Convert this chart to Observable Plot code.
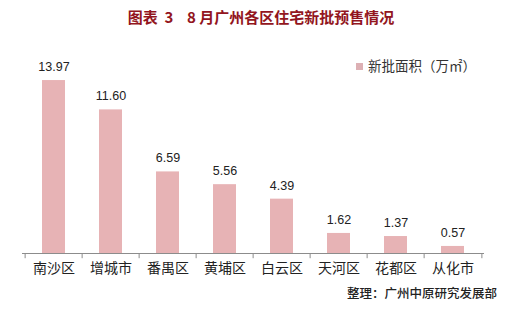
<!DOCTYPE html>
<html>
<head>
<meta charset="utf-8">
<script src="https://cdn.jsdelivr.net/npm/d3@7"></script>
<script src="https://cdn.jsdelivr.net/npm/@observablehq/plot@0.6"></script>
<style>
  html, body { margin: 0; padding: 0; background: #fff; }
  #wrap { position: relative; width: 511px; height: 309px; overflow: hidden; }
  #wrap svg { position: absolute; left: 0; top: 0; }
  .title { position: absolute; left: 0; width: 522px; top: 6px; text-align: center;
    font: bold 15px "Noto Sans CJK SC", sans-serif; color: #921520; line-height: 22px; white-space: pre; }
  .legend { position: absolute; left: 356px; top: 55px; font: 13.5px "Noto Sans CJK SC", sans-serif;
    color: #333; line-height: 20px; white-space: nowrap; }
  .legend i { display: inline-block; width: 7px; height: 7px; background: #ddb0b4; margin-right: 5px; vertical-align: 1px; }
  .caption { position: absolute; right: 14px; top: 283px; font: 500 12.5px "Noto Sans CJK SC", sans-serif;
    color: #222; line-height: 20px; white-space: nowrap; }
</style>
</head>
<body>
<div id="wrap"></div>
<script>
const districts = ["南沙区", "增城市", "番禺区", "黄埔区", "白云区", "天河区", "花都区", "从化市"];
const areas = [13.97, 11.60, 6.59, 5.56, 4.39, 1.62, 1.37, 0.57];
const valueLabels = ["13.97", "11.60", "6.59", "5.56", "4.39", "1.62", "1.37", "0.57"];
const titleText = "图表  3    8 月广州各区住宅新批预售情况";
const legendText = "新批面积（万㎡）";
const captionText = "整理：广州中原研究发展部";

const data = districts.map((d, i) => ({district: d, area: areas[i], label: valueLabels[i]}));

const W = 511, H = 309, mL = 22, mR = 27;
const step = (W - mL - mR) / districts.length;

const chart = Plot.plot({
  width: W,
  height: H,
  marginTop: 67.3,
  marginBottom: 56,
  marginLeft: mL,
  marginRight: mR,
  style: {background: "transparent", overflow: "visible"},
  x: {type: "band", domain: districts, paddingInner: 0.6, paddingOuter: 0.3, axis: null},
  y: {domain: [0, 15], axis: null},
  marks: [
    Plot.barY(data, {x: "district", y: "area", fill: "#e7b3b5"}),
    Plot.ruleY([0], {stroke: "#8c8c8c", strokeWidth: 1}),
    Plot.ruleX(districts, {x: d => d, y1: 0, y2: -0.42, dx: -step / 2, stroke: "#8c8c8c"}),
    Plot.ruleX([districts[districts.length - 1]], {x: d => d, y1: 0, y2: -0.42, dx: step / 2, stroke: "#8c8c8c"}),
    Plot.text(data, {x: "district", y: "area", text: "label", dy: -13.5, fontSize: 12.5,
      fontFamily: "Liberation Sans, Arial, sans-serif", fill: "#222"}),
    Plot.text(districts, {x: d => d, frameAnchor: "bottom", dy: 19, fontSize: 14,
      fontFamily: "Noto Sans CJK SC, sans-serif", fill: "#222"})
  ]
});

const wrap = document.getElementById("wrap");
wrap.appendChild(chart);
const t = document.createElement("div"); t.className = "title"; t.textContent = titleText; wrap.appendChild(t);
const l = document.createElement("div"); l.className = "legend"; l.innerHTML = "<i></i>"; l.appendChild(document.createTextNode(legendText)); wrap.appendChild(l);
const c = document.createElement("div"); c.className = "caption"; c.textContent = captionText; wrap.appendChild(c);
</script>
</body>
</html>
